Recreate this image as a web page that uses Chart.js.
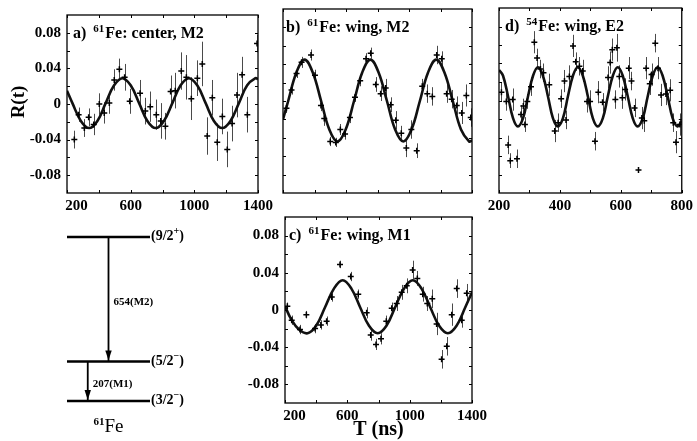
<!DOCTYPE html>
<html>
<head>
<meta charset="utf-8">
<script src="https://cdn.jsdelivr.net/npm/chart.js@4.4.1/dist/chart.umd.min.js"></script>
<style>
  html, body { margin: 0; padding: 0; background: #fff; }
  #fig { position: relative; width: 697px; height: 441px; overflow: hidden; }
  #fig canvas { position: absolute; left: 0; top: 0; }
</style>
</head>
<body>
<div id="fig">
  <canvas id="chartA" width="697" height="441"></canvas>
  <canvas id="chartB" width="697" height="441"></canvas>
  <canvas id="chartC" width="697" height="441"></canvas>
  <canvas id="chartD" width="697" height="441"></canvas>
  <canvas id="chartL" width="697" height="441"></canvas>
</div>
<script>
// ---- tick labels ----
const yTicks = [-0.08, -0.04, 0, 0.04, 0.08];
const yTickLabels = ['-0.08', '-0.04', '0', '0.04', '0.08'];
const longTimeTicks = [200, 600, 1000, 1400];
const shortTimeTicks = [200, 400, 600, 800];

// ---- a) 61Fe: center, M2 ----
const aTime = [246, 273, 309, 336, 368, 403, 434, 466, 497, 529, 562, 594, 659, 692, 723, 761, 789, 818, 851, 880, 918, 950, 981, 1019, 1050, 1081, 1113, 1144, 1176, 1207, 1237, 1268, 1300, 1333, 1394];
const aR = [-0.040, -0.012, -0.027, -0.015, -0.023, 0.000, -0.010, 0.001, 0.027, 0.039, 0.030, 0.003, 0.012, -0.008, -0.003, -0.012, -0.019, -0.025, 0.014, 0.015, 0.037, 0.030, 0.006, 0.029, 0.045, -0.036, 0.007, -0.043, -0.014, -0.051, -0.022, 0.010, 0.033, -0.012, 0.068];
const aErr = [0.010, 0.008, 0.010, 0.010, 0.012, 0.012, 0.012, 0.012, 0.012, 0.012, 0.015, 0.014, 0.015, 0.015, 0.017, 0.017, 0.020, 0.015, 0.018, 0.020, 0.021, 0.025, 0.024, 0.020, 0.025, 0.021, 0.020, 0.021, 0.020, 0.020, 0.020, 0.025, 0.020, 0.020, 0.010];
const fitATime = [200, 234, 287, 339, 391, 443, 496, 548, 600, 653, 705, 757, 809, 862, 914, 966, 1018, 1071, 1123, 1175, 1227, 1280, 1332, 1384, 1400];
const fitAR = [0.015, 0.001, -0.019, -0.027, -0.019, 0.001, 0.021, 0.029, 0.021, 0.001, -0.019, -0.027, -0.019, 0.001, 0.021, 0.029, 0.021, 0.001, -0.019, -0.027, -0.019, 0.001, 0.021, 0.029, 0.028];

// ---- b) 61Fe: wing, M2 ----
const bTime = [222, 254, 286, 318, 378, 403, 441, 462, 500, 535, 564, 594, 625, 657, 690, 727, 757, 789, 820, 852, 884, 916, 951, 983, 1015, 1049, 1084, 1116, 1148, 1176, 1208, 1239, 1271, 1303, 1335, 1364, 1392];
const bR = [-0.008, 0.012, 0.030, 0.042, 0.050, 0.028, -0.005, -0.019, -0.044, -0.045, -0.031, -0.036, -0.018, 0.004, 0.022, 0.046, 0.052, 0.018, 0.008, 0.014, -0.004, -0.021, -0.035, -0.051, -0.031, -0.054, 0.016, 0.008, 0.005, 0.050, 0.046, 0.008, 0.002, -0.005, -0.013, 0.006, -0.018];
const bErr = [0.005, 0.005, 0.005, 0.006, 0.006, 0.006, 0.006, 0.008, 0.005, 0.005, 0.006, 0.006, 0.006, 0.005, 0.006, 0.006, 0.006, 0.008, 0.008, 0.010, 0.008, 0.010, 0.008, 0.010, 0.010, 0.008, 0.008, 0.010, 0.010, 0.010, 0.008, 0.010, 0.010, 0.010, 0.012, 0.012, 0.010];
const fitBTime = [200, 233, 285, 337, 389, 442, 494, 546, 598, 651, 703, 755, 807, 860, 912, 964, 1016, 1069, 1121, 1173, 1225, 1278, 1330, 1382, 1400];
const fitBR = [-0.020, 0.000, 0.031, 0.045, 0.031, 0.000, -0.031, -0.044, -0.031, 0.000, 0.031, 0.045, 0.031, 0.000, -0.031, -0.044, -0.031, 0.000, 0.031, 0.045, 0.031, 0.000, -0.031, -0.044, -0.043];

// ---- c) 61Fe: wing, M1 ----
const cTime = [215, 243, 296, 337, 393, 430, 467, 500, 553, 622, 670, 724, 750, 784, 816, 850, 885, 917, 949, 981, 1019, 1049, 1084, 1113, 1145, 1173, 1205, 1238, 1270, 1302, 1334, 1366];
const cR = [0.004, -0.011, -0.021, -0.005, -0.020, -0.016, -0.012, 0.014, 0.049, 0.036, 0.017, -0.003, -0.027, -0.037, -0.031, -0.012, 0.002, 0.007, 0.019, 0.026, 0.043, 0.034, 0.017, 0.007, 0.012, -0.015, -0.053, -0.039, -0.005, 0.023, -0.011, 0.018];
const cErr = [0.004, 0.005, 0.005, 0.004, 0.005, 0.005, 0.005, 0.005, 0.004, 0.005, 0.005, 0.006, 0.006, 0.006, 0.006, 0.006, 0.006, 0.008, 0.008, 0.008, 0.010, 0.008, 0.008, 0.008, 0.010, 0.012, 0.010, 0.010, 0.012, 0.010, 0.008, 0.010];
const fitCTime = [200, 240, 290, 345, 400, 457, 514, 570, 626, 682, 739, 795, 851, 907, 964, 1020, 1076, 1132, 1189, 1245, 1301, 1357, 1400];
const fitCR = [0.004, -0.010, -0.021, -0.025, -0.017, 0.003, 0.023, 0.032, 0.023, 0.003, -0.017, -0.025, -0.017, 0.003, 0.023, 0.032, 0.023, 0.003, -0.017, -0.025, -0.017, 0.003, 0.019];

// ---- d) 54Fe: wing, E2 ----
const dTime = [208, 224, 230, 237, 245, 259, 272, 280, 285, 293, 305, 316, 325, 336, 346, 365, 383, 394, 404, 415, 420, 431, 443, 452, 464, 475, 489, 499, 515, 526, 540, 558, 565, 572, 582, 587, 595, 605, 614, 626, 635, 645, 658, 669, 677, 683, 695, 701, 713, 722, 732, 748, 762, 772, 781, 794];
const dR = [0.009, -0.001, -0.048, -0.065, 0.001, -0.063, -0.015, -0.006, -0.026, -0.001, 0.015, 0.063, 0.046, 0.034, 0.030, 0.017, -0.033, -0.024, 0.002, 0.021, -0.021, 0.026, 0.059, 0.042, 0.037, 0.032, -0.001, -0.001, -0.044, 0.009, -0.002, 0.025, 0.041, 0.055, 0.001, 0.057, 0.026, 0.003, 0.012, 0.035, 0.021, -0.008, -0.075, -0.019, -0.022, 0.035, 0.018, 0.028, 0.062, 0.035, 0.006, 0.007, 0.011, -0.024, -0.045, -0.026];
const dErr = [0.010, 0.010, 0.010, 0.008, 0.012, 0.010, 0.010, 0.008, 0.008, 0.008, 0.010, 0.012, 0.010, 0.010, 0.010, 0.012, 0.012, 0.010, 0.010, 0.012, 0.010, 0.012, 0.012, 0.010, 0.010, 0.012, 0.012, 0.012, 0.010, 0.012, 0.010, 0.012, 0.012, 0.012, 0.010, 0.015, 0.012, 0.012, 0.012, 0.012, 0.010, 0.010, 0.002, 0.012, 0.012, 0.012, 0.012, 0.012, 0.010, 0.012, 0.012, 0.012, 0.012, 0.010, 0.012, 0.012];
const fitDTime = [200, 213, 230, 246, 262, 279, 295, 312, 328, 344, 361, 377, 393, 410, 426, 443, 459, 475, 492, 508, 524, 541, 557, 574, 590, 606, 623, 639, 655, 672, 688, 705, 721, 737, 754, 770, 786, 800];
const fitDR = [0.033, 0.027, 0.004, -0.019, -0.028, -0.019, 0.004, 0.027, 0.036, 0.027, 0.004, -0.019, -0.028, -0.019, 0.004, 0.027, 0.036, 0.027, 0.004, -0.019, -0.028, -0.019, 0.004, 0.027, 0.036, 0.027, 0.004, -0.019, -0.028, -0.019, 0.004, 0.027, 0.036, 0.027, 0.004, -0.019, -0.028, -0.022];

// ---- level scheme of 61Fe (keV) ----
const levelEnergies = [0, 207, 861];
const levelSpins = ['3/2', '5/2', '9/2'];
const levelParities = ['\u2212', '\u2212', '+'];
const gammaFrom = [861, 207];
const gammaTo = [207, 0];
const gammaLabels = ['654(M2)', '207(M1)'];

const SERIF = "'Liberation Serif', 'DejaVu Serif', serif";
const W = 697, H = 441;
const Y_W = 50, X_H = 30;

function toXY(xs, ys) {
    return xs.map((x, i) => ({ x: x, y: ys[i] }));
}

// draw a run of text pieces (for superscripts)
function drawParts(ctx, parts, x, y) {
    parts.forEach(p => {
        ctx.font = p.font;
        ctx.fillText(p.text, x, y + (p.dy || 0));
        x += ctx.measureText(p.text).width + (p.gap || 0);
    });
}

const panelPlugin = {
    id: 'panel',
    beforeDatasetsDraw(chart, args, opts) {
        const { ctx, chartArea, scales } = chart;
        const pts = chart.data.datasets[1];
        ctx.save();
        ctx.beginPath();
        ctx.rect(chartArea.left, chartArea.top, chartArea.width, chartArea.height);
        ctx.clip();
        ctx.strokeStyle = '#4a4a4a';
        ctx.lineWidth = 1;
        pts.data.forEach((p, i) => {
            const e = pts.errors[i];
            const px = Math.round(scales.x.getPixelForValue(p.x)) + 0.5;
            ctx.beginPath();
            ctx.moveTo(px, scales.y.getPixelForValue(p.y + e));
            ctx.lineTo(px, scales.y.getPixelForValue(p.y - e));
            ctx.stroke();
        });
        ctx.restore();
    },
    afterDraw(chart, args, opts) {
        const { ctx, chartArea: a, scales } = chart;
        ctx.save();
        // frame
        ctx.strokeStyle = '#000';
        ctx.lineWidth = 1.3;
        ctx.strokeRect(a.left, a.top, a.width, a.height);
        // inner tick marks
        ctx.lineWidth = 1;
        const yMarks = [];
        for (let i = 0; i < yTicks.length; i++) {
            yMarks.push(yTicks[i]);
            if (i < yTicks.length - 1) yMarks.push((yTicks[i] + yTicks[i + 1]) / 2);
        }
        yMarks.forEach(v => {
            const py = Math.round(scales.y.getPixelForValue(v)) + 0.5;
            ctx.beginPath();
            ctx.moveTo(a.left, py); ctx.lineTo(a.left + 3, py);
            ctx.moveTo(a.right, py); ctx.lineTo(a.right - 3, py);
            ctx.stroke();
        });
        const xt = opts.xTicks;
        const xMarks = [];
        for (let i = 0; i < xt.length; i++) {
            xMarks.push(xt[i]);
            if (i < xt.length - 1) xMarks.push((xt[i] + xt[i + 1]) / 2);
        }
        xMarks.forEach(v => {
            const px = Math.round(scales.x.getPixelForValue(v)) + 0.5;
            ctx.beginPath();
            ctx.moveTo(px, a.bottom); ctx.lineTo(px, a.bottom - 3);
            ctx.moveTo(px, a.top); ctx.lineTo(px, a.top + 3);
            ctx.stroke();
        });
        // panel title
        ctx.fillStyle = '#000';
        ctx.textBaseline = 'alphabetic';
        ctx.textAlign = 'left';
        drawParts(ctx, [
            { text: opts.title[0], font: 'bold 16px ' + SERIF, gap: 7 },
            { text: opts.title[1], font: 'bold 11px ' + SERIF, dy: -6, gap: 1 },
            { text: opts.title[2], font: 'bold 16px ' + SERIF }
        ], a.left + opts.titleDx, a.top + opts.titleDy);
        // axis titles
        if (opts.yTitle) {
            ctx.save();
            ctx.translate(19, (a.top + a.bottom) / 2 - 2);
            ctx.rotate(-Math.PI / 2);
            ctx.font = 'bold 19px ' + SERIF;
            ctx.textAlign = 'center';
            ctx.textBaseline = 'middle';
            ctx.fillText(opts.yTitle, 0, 0);
            ctx.restore();
        }
        if (opts.xTitle) {
            ctx.font = 'bold 20px ' + SERIF;
            ctx.textAlign = 'center';
            ctx.textBaseline = 'middle';
            ctx.fillText(opts.xTitle, (a.left + a.right) / 2, a.bottom + 27);
        }
        ctx.restore();
    }
};

function makePanel(id, p) {
    const [left, top, right, bottom] = p.area;
    return new Chart(document.getElementById(id), {
        type: 'scatter',
        data: {
            datasets: [
                {
                    type: 'line',
                    data: toXY(p.fitT, p.fitR),
                    borderColor: '#111',
                    borderWidth: 2.6,
                    pointRadius: 0,
                    tension: 0.4,
                    fill: false,
                    order: 2
                },
                {
                    type: 'scatter',
                    data: toXY(p.t, p.r),
                    errors: p.err,
                    pointStyle: 'cross',
                    pointRadius: 3,
                    borderWidth: 1.5,
                    borderColor: '#000',
                    backgroundColor: '#000',
                    order: 1
                }
            ]
        },
        options: {
            responsive: false,
            animation: false,
            devicePixelRatio: 1,
            events: [],
            layout: { padding: { left: left - Y_W, top: top, right: W - right, bottom: H - bottom - X_H } },
            plugins: {
                legend: { display: false },
                tooltip: { enabled: false },
                panel: {
                    title: p.title,
                    titleDx: p.titleDx,
                    titleDy: 23,
                    xTicks: p.xTicks,
                    yTitle: p.yTitle,
                    xTitle: p.xTitle
                }
            },
            scales: {
                x: {
                    type: 'linear',
                    min: p.xTicks[0],
                    max: p.xTicks[p.xTicks.length - 1],
                    afterBuildTicks: s => { s.ticks = p.xTicks.map(v => ({ value: v })); },
                    afterFit: s => { s.height = X_H; },
                    grid: { display: false, drawTicks: false },
                    border: { display: false },
                    ticks: {
                        display: p.showX,
                        autoSkip: false,
                        maxRotation: 0,
                        padding: 4,
                        color: '#000',
                        font: { family: SERIF, size: 15, weight: 'bold' },
                        callback: (v, i) => (p.shiftFirst && i === 0 ? '     ' : '') + String(p.xTicks[i])
                    }
                },
                y: {
                    type: 'linear',
                    min: -0.1,
                    max: 0.1,
                    afterBuildTicks: s => { s.ticks = yTicks.map(v => ({ value: v })); },
                    afterFit: s => { s.width = Y_W; },
                    grid: { display: false, drawTicks: false },
                    border: { display: false },
                    ticks: {
                        display: p.showY,
                        padding: 6,
                        color: '#000',
                        font: { family: SERIF, size: 15, weight: 'bold' },
                        callback: (v, i) => yTickLabels[i]
                    }
                }
            }
        },
        plugins: [panelPlugin]
    });
}

makePanel('chartA', {
    area: [67, 8, 258, 193], t: aTime, r: aR, err: aErr, fitT: fitATime, fitR: fitAR,
    xTicks: longTimeTicks, showX: true, showY: true, shiftFirst: true, titleDx: 6,
    title: ['a)', '61', 'Fe: center, M2'], yTitle: 'R(t)'
});
makePanel('chartB', {
    area: [283, 9, 472, 193], t: bTime, r: bR, err: bErr, fitT: fitBTime, fitR: fitBR,
    xTicks: longTimeTicks, showX: false, showY: false, titleDx: 3,
    title: ['b)', '61', 'Fe: wing, M2']
});
makePanel('chartC', {
    area: [285, 217, 472, 403], t: cTime, r: cR, err: cErr, fitT: fitCTime, fitR: fitCR,
    xTicks: longTimeTicks, showX: true, showY: true, shiftFirst: true, titleDx: 4,
    title: ['c)', '61', 'Fe: wing, M1'], xTitle: 'T (ns)'
});
makePanel('chartD', {
    area: [499, 8, 688, 193], t: dTime, r: dR, err: dErr, fitT: fitDTime, fitR: fitDR,
    xTicks: shortTimeTicks, showX: true, showY: false, titleDx: 6,
    title: ['d)', '54', 'Fe: wing, E2']
});

// ---- level scheme ----
const levelPlugin = {
    id: 'levels',
    afterDatasetsDraw(chart, args, opts) {
        const { ctx, chartArea: a, scales: { x, y } } = chart;
        ctx.save();
        ctx.fillStyle = '#000';
        // arrow heads
        gammaTo.forEach((to, i) => {
            const px = x.getPixelForValue(opts.columns[i]);
            const py = y.getPixelForValue(to);
            ctx.beginPath();
            ctx.moveTo(px, py - 1);
            ctx.lineTo(px - 3.2, py - 11);
            ctx.lineTo(px + 3.2, py - 11);
            ctx.closePath();
            ctx.fill();
        });
        // gamma labels
        ctx.textAlign = 'left';
        ctx.textBaseline = 'middle';
        ctx.font = 'bold 11px ' + SERIF;
        gammaLabels.forEach((lab, i) => {
            const px = x.getPixelForValue(opts.columns[i]);
            const py = (y.getPixelForValue(gammaFrom[i]) + y.getPixelForValue(gammaTo[i])) / 2 + 3;
            ctx.fillText(lab, px + 5, py);
        });
        // level spins
        ctx.textBaseline = 'alphabetic';
        levelEnergies.forEach((e, i) => {
            const py = y.getPixelForValue(e);
            drawParts(ctx, [
                { text: '(' + levelSpins[i], font: 'bold 14px ' + SERIF },
                { text: levelParities[i], font: 'bold 10px ' + SERIF, dy: -6 },
                { text: ')', font: 'bold 14px ' + SERIF }
            ], a.right + 1, py + 3);
        });
        // nucleus name
        ctx.font = '19px ' + SERIF;
        const w1 = (ctx.font = 'bold 11px ' + SERIF, ctx.measureText('61').width);
        ctx.font = '19px ' + SERIF;
        const w2 = ctx.measureText('Fe').width;
        drawParts(ctx, [
            { text: '61', font: 'bold 11px ' + SERIF, dy: -7, gap: 0 },
            { text: 'Fe', font: '19px ' + SERIF }
        ], (a.left + a.right) / 2 - (w1 + w2) / 2, a.bottom + 31);
        ctx.restore();
    }
};

const arrowColumns = [50, 25];
new Chart(document.getElementById('chartL'), {
    type: 'line',
    data: {
        datasets: levelEnergies.map(e => ({
            data: [{ x: 0, y: e }, { x: 100, y: e }],
            borderColor: '#000', borderWidth: 2.4, pointRadius: 0, clip: false
        })).concat(gammaFrom.map((from, i) => ({
            data: [{ x: arrowColumns[i], y: from }, { x: arrowColumns[i], y: gammaTo[i] }],
            borderColor: '#000', borderWidth: 1.8, pointRadius: 0, clip: false
        })))
    },
    options: {
        responsive: false,
        animation: false,
        devicePixelRatio: 1,
        events: [],
        layout: { padding: { left: 67, top: 237, right: W - 150, bottom: H - 401 } },
        plugins: { legend: { display: false }, tooltip: { enabled: false }, levels: { columns: arrowColumns } },
        scales: {
            x: { type: 'linear', display: false, min: 0, max: 100 },
            y: { type: 'linear', display: false, min: 0, max: 861 }
        }
    },
    plugins: [levelPlugin]
});
</script>
</body>
</html>
